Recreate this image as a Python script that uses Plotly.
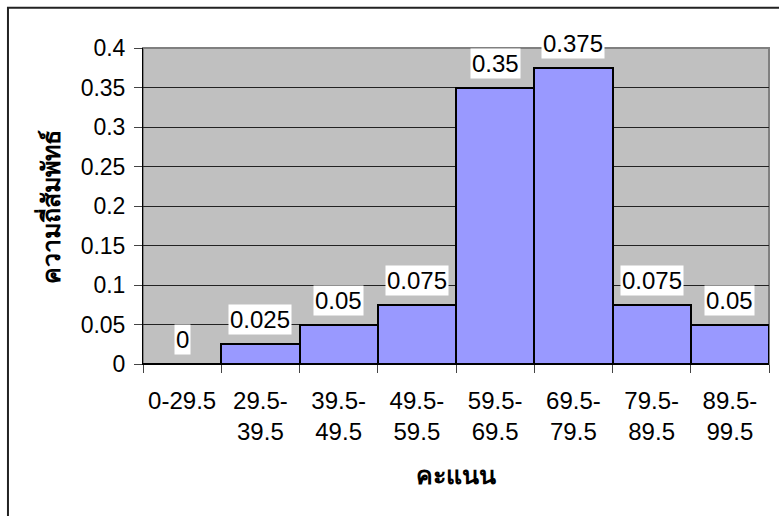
import plotly.graph_objects as go

categories = ["0-29.5", "29.5-<br>39.5", "39.5-<br>49.5", "49.5-<br>59.5",
              "59.5-<br>69.5", "69.5-<br>79.5", "79.5-<br>89.5", "89.5-<br>99.5"]
values = [0, 0.025, 0.05, 0.075, 0.35, 0.375, 0.075, 0.05]
value_labels = ["0", "0.025", "0.05", "0.075", "0.35", "0.375", "0.075", "0.05"]
y_title = "ความถี่สัมพัทธ์"
x_title = "คะแนน"

FONT = "Liberation Sans, Arial, sans-serif"
FS = 24

fig = go.Figure()
fig.add_trace(go.Bar(
    x=categories, y=values,
    marker=dict(color="#9999FF", line=dict(color="#000000", width=2)),
    hoverinfo="skip",
))

for c, v, t in zip(categories, values, value_labels):
    fig.add_annotation(x=c, y=v, text=t, showarrow=False, yanchor="bottom",
                       yshift=9, bgcolor="#FFFFFF", borderpad=1,
                       font=dict(family=FONT, size=FS, color="#000000"))

fig.add_annotation(xref="paper", yref="paper", x=-0.1486, y=0.497, text="<b>" + y_title + "</b>",
                   textangle=-90, showarrow=False, xanchor="center", yanchor="middle",
                   font=dict(family=FONT, size=25, color="#000000"))
fig.add_annotation(xref="paper", yref="paper", x=0.5, y=-0.351, text="<b>" + x_title + "</b>",
                   showarrow=False, xanchor="center", yanchor="middle",
                   font=dict(family=FONT, size=25, color="#000000"))

# plot area border (gray) and outer chart border
fig.add_shape(type="rect", xref="paper", yref="paper", x0=0, x1=1, y0=0, y1=1,
              line=dict(color="#808080", width=2), layer="between")
fig.add_shape(type="rect", xref="paper", yref="paper", x0=-0.2157, x1=1.05, y0=-0.56, y1=1.127,
              line=dict(color="#222222", width=2), layer="above")

fig.update_layout(
    width=779, height=516, autosize=False,
    margin=dict(l=143, r=10, t=48, b=152),
    paper_bgcolor="#FFFFFF", plot_bgcolor="#C0C0C0",
    bargap=0, showlegend=False,
    font=dict(family=FONT, size=FS, color="#000000"),
)
fig.update_xaxes(
    tickson="boundaries", ticks="outside", ticklen=8, tickcolor="#444444", tickwidth=1,
    showline=True, linecolor="#000000", linewidth=1, showgrid=False,
    tickfont=dict(family=FONT, size=FS, color="#000000"), ticklabelstandoff=15,
)
fig.update_yaxes(
    range=[0, 0.4], dtick=0.05, ticks="outside", ticklen=8, tickcolor="#444444",
    showline=True, linecolor="#000000", linewidth=1,
    showgrid=True, gridcolor="#222222", gridwidth=1, zeroline=False,
    tickfont=dict(family=FONT, size=23, color="#000000"), ticklabelstandoff=4,
)

fig.write_html("out.html", config={"displayModeBar": False},
               post_script="document.body.style.margin='0';")
